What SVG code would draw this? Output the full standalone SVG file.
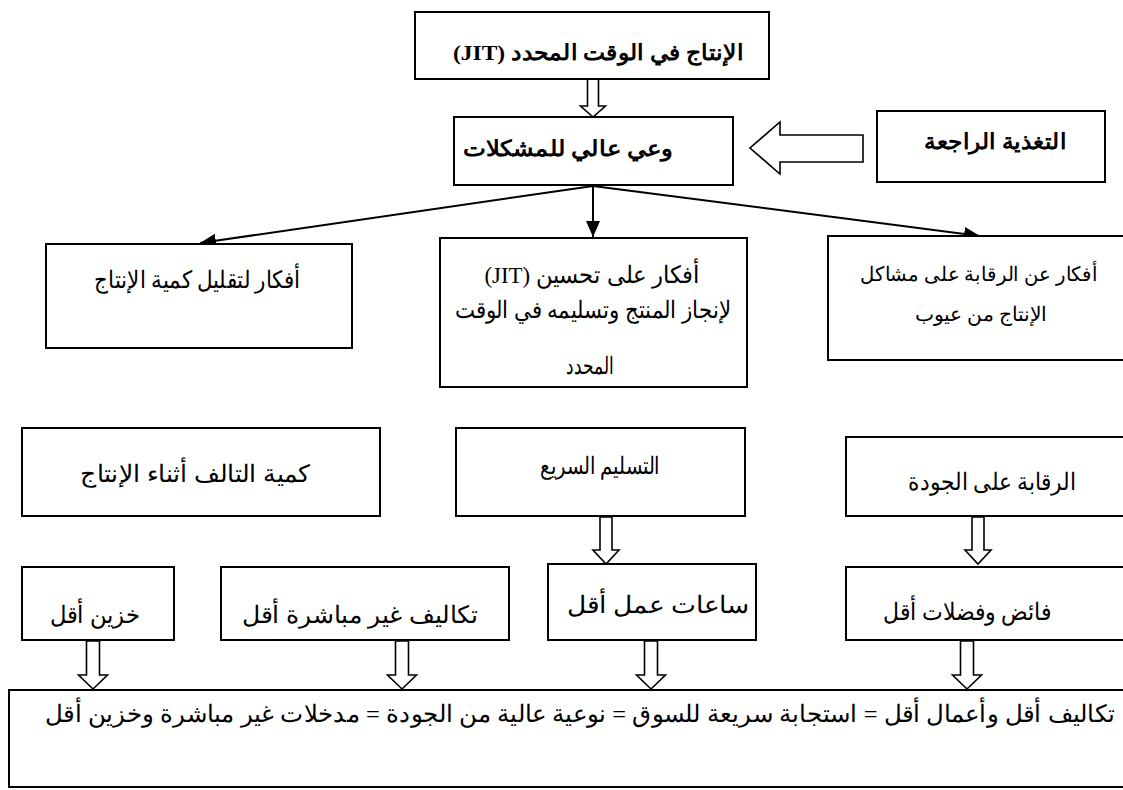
<svg xmlns="http://www.w3.org/2000/svg" width="1123" height="790" viewBox="0 0 1123 790">
  <style>
    .box { fill: #ffffff; stroke: #000000; stroke-width: 2; }
    .lbl { font-family: 'Liberation Serif', 'DejaVu Serif', serif; font-size: 24px; fill: #000000; text-anchor: middle; direction: rtl; }
    .bold { font-weight: bold; font-size: 22px; }
    .small { font-size: 20px; }
    .hollow { fill: #ffffff; stroke: #000000; stroke-width: 1.6; stroke-linejoin: miter; }
    .link { fill: none; stroke: #000000; stroke-width: 2; }
  </style>
  <defs>
    <marker id="head" viewBox="0 0 16 14" refX="16" refY="7" markerWidth="16" markerHeight="14" markerUnits="userSpaceOnUse" orient="auto">
      <path d="M0,0 L16,7 L0,14 Z" fill="#000000"/>
    </marker>
  </defs>

  <rect width="1123" height="790" fill="#ffffff"/>

  <!-- connectors -->
  <g id="connectors">
    <line class="link" x1="593" y1="186" x2="200" y2="243" marker-end="url(#head)"/>
    <line class="link" x1="593" y1="186" x2="593" y2="237" marker-end="url(#head)"/>
    <line class="link" x1="593" y1="186" x2="980" y2="236" marker-end="url(#head)"/>
    <!-- block arrows -->
    <path class="hollow" d="M587.5,79 H598.5 V106 H605.5 L593,117 L580.5,106 H587.5 Z"/>
    <path class="hollow" d="M863,135 V162 H780 V174 L750,148 L780,122 V135 Z"/>
    <path class="hollow" d="M600,517 H612 V550 H619 L606,564 L593,550 H600 Z"/>
    <path class="hollow" d="M972,517 H984 V550 H991 L978,564 L965,550 H972 Z"/>
    <path class="hollow" d="M86.5,641 H99.5 V675 H107.5 L93,689 L78.5,675 H86.5 Z"/>
    <path class="hollow" d="M395.5,641 H408.5 V675 H416.5 L402,689 L387.5,675 H395.5 Z"/>
    <path class="hollow" d="M644.5,641 H657.5 V675 H665.5 L651,689 L636.5,675 H644.5 Z"/>
    <path class="hollow" d="M960.5,641 H973.5 V675 H981.5 L967,689 L952.5,675 H960.5 Z"/>
  </g>

  <g id="jit">
    <rect class="box" x="415" y="12" width="354" height="67"/>
    <text class="lbl bold" x="598" y="60" textLength="290" lengthAdjust="spacingAndGlyphs">الإنتاج في الوقت المحدد (JIT)</text>
  </g>

  <g id="awareness">
    <rect class="box" x="454" y="117" width="279" height="68"/>
    <text class="lbl bold" x="568" y="156" textLength="211" lengthAdjust="spacingAndGlyphs">وعي عالي للمشكلات</text>
  </g>

  <g id="feedback">
    <rect class="box" x="877" y="111" width="228" height="71"/>
    <text class="lbl bold" x="995" y="149" textLength="142" lengthAdjust="spacingAndGlyphs">التغذية الراجعة</text>
  </g>

  <g id="idea-reduce">
    <rect class="box" x="46" y="244" width="306" height="104"/>
    <text class="lbl" x="197" y="288" textLength="206" lengthAdjust="spacingAndGlyphs">أفكار لتقليل كمية الإنتاج</text>
  </g>

  <g id="idea-jit">
    <rect class="box" x="440" y="238" width="307" height="149"/>
    <text class="lbl" x="592" y="283" textLength="215" lengthAdjust="spacingAndGlyphs">أفكار على تحسين (JIT)</text>
    <text class="lbl" x="593" y="318" textLength="277" lengthAdjust="spacingAndGlyphs">لإنجاز المنتج وتسليمه في الوقت</text>
    <text class="lbl" x="590" y="374" textLength="48" lengthAdjust="spacingAndGlyphs">المحدد</text>
  </g>

  <g id="idea-control">
    <rect class="box" x="828" y="236" width="310" height="124"/>
    <text class="lbl small" x="979" y="281" textLength="238" lengthAdjust="spacingAndGlyphs">أفكار عن الرقابة على مشاكل</text>
    <text class="lbl small" x="981" y="321" textLength="133" lengthAdjust="spacingAndGlyphs">الإنتاج من عيوب</text>
  </g>

  <g id="scrap">
    <rect class="box" x="22" y="428" width="358" height="88"/>
    <text class="lbl" x="195" y="482" textLength="230" lengthAdjust="spacingAndGlyphs">كمية التالف أثناء الإنتاج</text>
  </g>

  <g id="delivery">
    <rect class="box" x="456" y="428" width="289" height="88"/>
    <text class="lbl" x="600" y="474" textLength="120" lengthAdjust="spacingAndGlyphs">التسليم السريع</text>
  </g>

  <g id="quality">
    <rect class="box" x="846" y="437" width="290" height="79"/>
    <text class="lbl" x="992" y="490" textLength="168" lengthAdjust="spacingAndGlyphs">الرقابة على الجودة</text>
  </g>

  <g id="inventory">
    <rect class="box" x="22" y="567" width="152" height="73"/>
    <text class="lbl" x="95" y="623" textLength="90" lengthAdjust="spacingAndGlyphs">خزين أقل</text>
  </g>

  <g id="indirect">
    <rect class="box" x="221" y="567" width="288" height="73"/>
    <text class="lbl" x="360" y="623" textLength="236" lengthAdjust="spacingAndGlyphs">تكاليف غير مباشرة أقل</text>
  </g>

  <g id="hours">
    <rect class="box" x="548" y="564" width="208" height="76"/>
    <text class="lbl" x="658" y="613" textLength="182" lengthAdjust="spacingAndGlyphs">ساعات عمل أقل</text>
  </g>

  <g id="waste">
    <rect class="box" x="846" y="567" width="290" height="73"/>
    <text class="lbl" x="967" y="620" textLength="168" lengthAdjust="spacingAndGlyphs">فائض وفضلات أقل</text>
  </g>

  <g id="outcome">
    <rect class="box" x="9" y="690" width="1130" height="97"/>
    <text class="lbl" x="580" y="722" textLength="1070" lengthAdjust="spacingAndGlyphs">تكاليف أقل وأعمال أقل = استجابة سريعة للسوق = نوعية عالية من الجودة = مدخلات غير مباشرة وخزين أقل</text>
  </g>
</svg>
